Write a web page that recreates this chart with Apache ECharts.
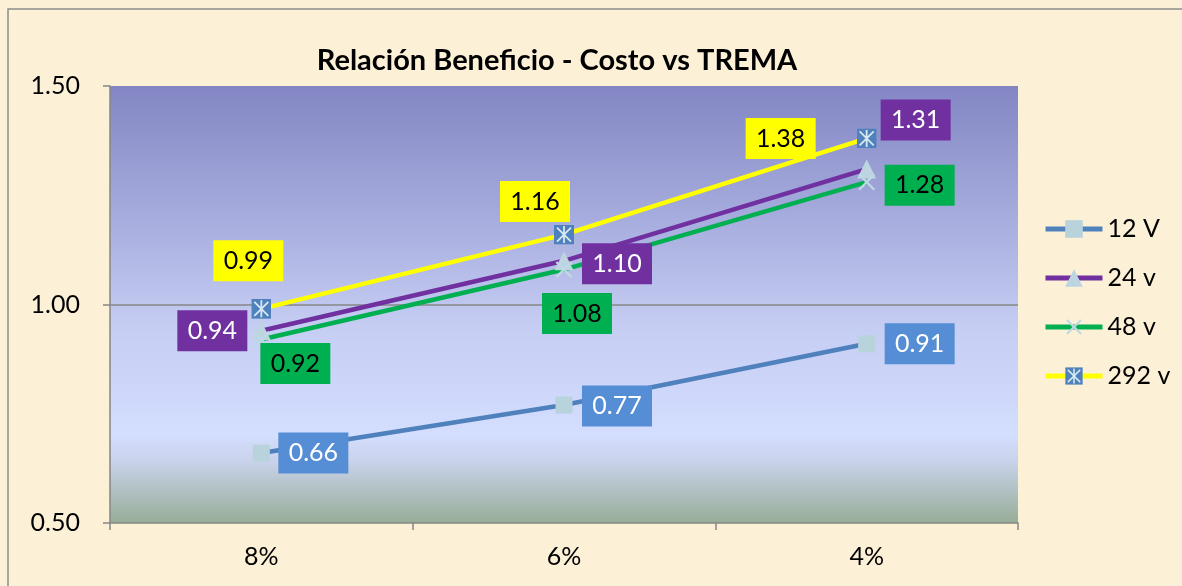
<!DOCTYPE html>
<html>
<head>
<meta charset="utf-8">
<script src="https://cdn.jsdelivr.net/npm/echarts@6/dist/echarts.min.js"></script>
<style>
  html, body { margin: 0; padding: 0; background: #fcf0d7; }
  #chart { width: 1182px; height: 586px; }
</style>
</head>
<body>
<div id="chart"></div>
<script>
// Rates (TREMA) on the category axis
const categories = ['8%', '6%', '4%'];

// Benefit / cost ratio per voltage
const serie12v  = [0.66, 0.77, 0.91];
const serie24v  = [0.94, 1.10, 1.31];
const serie48v  = [0.92, 1.08, 1.28];
const serie292v = [0.99, 1.16, 1.38];

const seriesNames = ['12 V', '24 v', '48 v', '292 v'];

// Y axis range
const yMin = 0.5, yMax = 1.5, yStep = 0.5;

// Label box offsets (px from each point) so boxes don't collide
const offsets = {
  '12 V':  [[52, 0], [53, 1], [53, 0]],
  '24 v':  [[-49, 0], [53, 3], [49, -49]],
  '48 v':  [[34, 24], [13, 44], [53, 3]],
  '292 v': [[-13, -48], [-29, -33], [-86, 0]]
};

const FONT = 'Lato, "Open Sans", sans-serif';

function svgSymbol(svg) {
  return 'image://data:image/svg+xml;charset=utf-8,' + encodeURIComponent(svg);
}
const crossSymbol = svgSymbol(
  "<svg xmlns='http://www.w3.org/2000/svg' width='20' height='20'>" +
  "<path d='M2 2L18 18M18 2L2 18' stroke='#bfd9e4' stroke-width='2.4' fill='none'/></svg>");
const starSymbol = svgSymbol(
  "<svg xmlns='http://www.w3.org/2000/svg' width='20' height='20'>" +
  "<rect x='0' y='0' width='20' height='20' fill='#4f81bd'/>" +
  "<path d='M3 3L17 17M17 3L3 17M10 1.5V18.5' stroke='#d6e8f2' stroke-width='1.8' fill='none'/></svg>");

function buildData(values, name, bg, fg) {
  return values.map((v, i) => ({
    value: v,
    label: {
      show: true,
      position: 'inside',
      offset: offsets[name][i],
      formatter: (p) => p.value.toFixed(2),
      backgroundColor: bg,
      color: fg,
      fontFamily: FONT,
      fontSize: 25,
      width: 70,
      height: 41,
      lineHeight: 41,
      align: 'center',
      verticalAlign: 'middle'
    }
  }));
}

const defs = [
  { name: '12 V',  values: serie12v,  line: '#4f81bd', symbol: 'rect',     size: 17, sym: '#b9d3dd', bg: '#558ed5', fg: '#ffffff' },
  { name: '24 v',  values: serie24v,  line: '#7030a0', symbol: 'triangle', size: 19, sym: '#bcd5e0', bg: '#7030a0', fg: '#ffffff' },
  { name: '48 v',  values: serie48v,  line: '#00b050', symbol: crossSymbol, size: 19, sym: '#bfd9e4', bg: '#00b050', fg: '#000000' },
  { name: '292 v', values: serie292v, line: '#ffff00', symbol: starSymbol,  size: 20, sym: '#4f81bd', bg: '#ffff00', fg: '#000000' }
];

const series = defs.map(d => ({
  name: d.name,
  type: 'line',
  data: buildData(d.values, d.name, d.bg, d.fg),
  symbol: d.symbol,
  symbolSize: d.size,
  showAllSymbol: true,
  lineStyle: { color: d.line, width: 4.5 },
  itemStyle: { color: d.sym, borderWidth: 0 },
  color: d.line,
  emphasis: { disabled: true },
  animation: false
}));

const chart = echarts.init(document.getElementById('chart'));
chart.setOption({
  backgroundColor: '#fcf0d7',
  animation: false,
  title: {
    text: 'Relación Beneficio - Costo vs TREMA',
    left: 552,
    top: 41,
    textAlign: 'center',
    textStyle: { fontFamily: FONT, fontWeight: 'bold', fontSize: 29, color: '#000' }
  },
  graphic: [{
    type: 'rect',
    shape: { x: 8, y: 9, width: 1200, height: 620 },
    style: { fill: 'none', stroke: '#8c8c8c', lineWidth: 1.5 },
    silent: true,
    z: 100
  }],
  legend: {
    orient: 'vertical',
    left: 1038,
    top: 211,
    itemWidth: 57,
    itemHeight: 22,
    itemGap: 23,
    data: seriesNames,
    lineStyle: { width: 5 },
    textStyle: { fontFamily: FONT, fontSize: 25, color: '#000', lineHeight: 26 }
  },
  grid: {
    left: 110,
    right: 164,
    top: 86,
    bottom: 63,
    show: true,
    borderWidth: 0,
    backgroundColor: new echarts.graphic.LinearGradient(0, 0, 0, 1, [
      { offset: 0.0, color: '#8386c3' },
      { offset: 0.3, color: '#a6acdd' },
      { offset: 0.55, color: '#c5cdf3' },
      { offset: 0.8, color: '#d4defe' },
      { offset: 0.86, color: '#c8d2ea' },
      { offset: 1.0, color: '#97ad97' }
    ])
  },
  xAxis: {
    type: 'category',
    data: categories,
    boundaryGap: true,
    axisLine: { show: true, lineStyle: { color: '#868686', width: 1.5 } },
    axisTick: { show: true, alignWithLabel: false, length: 7, lineStyle: { color: '#868686', width: 1.5 } },
    axisLabel: { fontFamily: FONT, fontSize: 25, color: '#000', margin: 21 },
    splitLine: { show: false }
  },
  yAxis: {
    type: 'value',
    min: yMin,
    max: yMax,
    interval: yStep,
    axisLine: { show: true, lineStyle: { color: '#868686', width: 1.5 } },
    axisTick: { show: true, length: 7, lineStyle: { color: '#868686', width: 1.5 } },
    axisLabel: { fontFamily: FONT, fontSize: 25, color: '#000', margin: 30, formatter: v => v.toFixed(2) },
    splitLine: { show: true, showMinLine: false, showMaxLine: false, lineStyle: { color: '#868686', width: 1.5 } }
  },
  series: series
});
</script>
</body>
</html>
